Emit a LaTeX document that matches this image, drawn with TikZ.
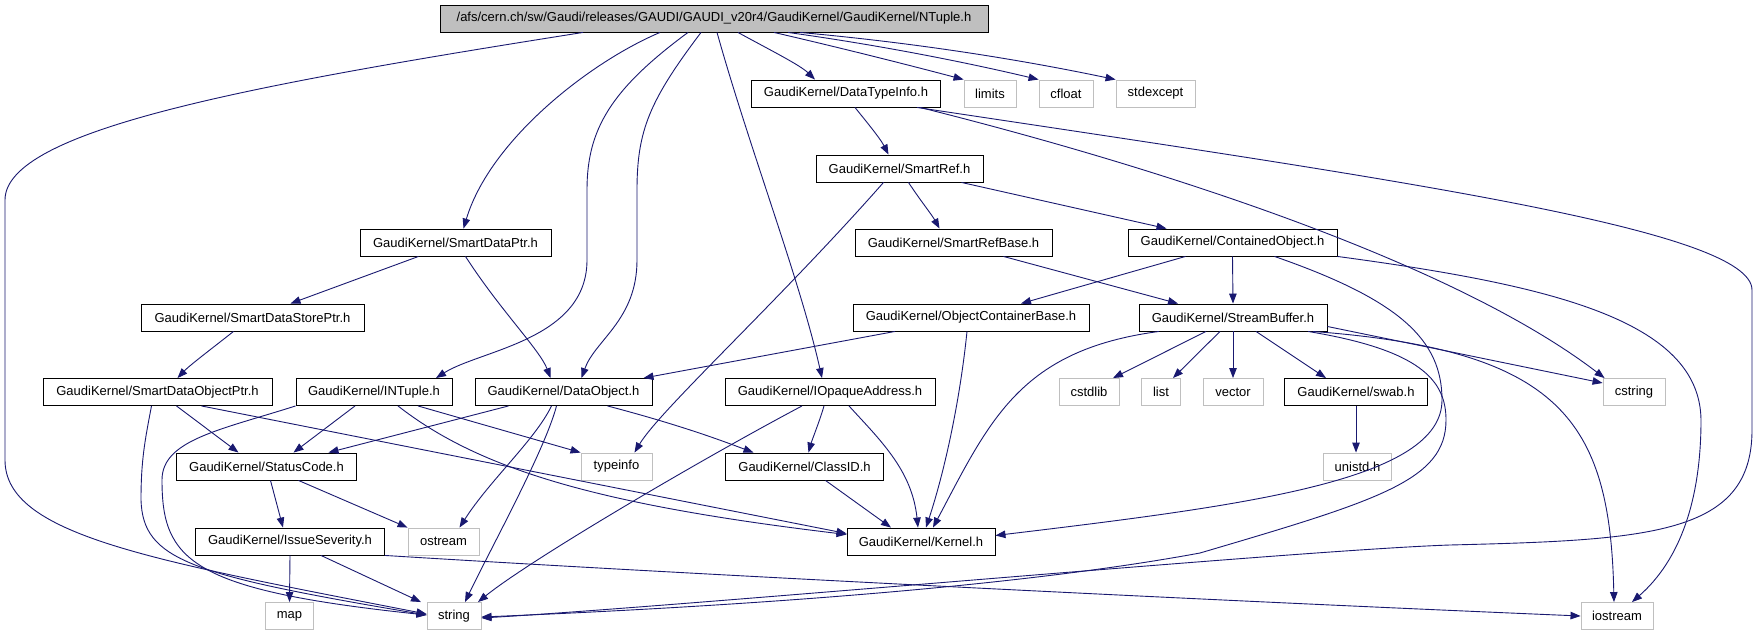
\documentclass[tikz,border=0pt]{standalone}
\usepackage{fontspec}
\setmainfont{Liberation Sans}
\usetikzlibrary{arrows.meta}
\definecolor{navy}{HTML}{191970}
\definecolor{lgray}{HTML}{BFBFBF}
\tikzset{
  box/.style={draw=black, fill=white, line width=0.9pt, minimum height=27pt, inner sep=0pt, font=\fontsize{13}{15}\selectfont},
  gbox/.style={box, draw=lgray},
  rootbox/.style={box, fill=lgray},
  edge/.style={draw=navy, line width=0.9pt, -{Triangle[length=10pt,width=7.5pt]}},
}
\begin{document}
\begin{tikzpicture}[x=1pt,y=-1pt]
\useasboundingbox[fill=white] (0,0) rectangle (1757,634);
% nodes
\node[rootbox, minimum width=548] (root) at (714,18.5) {/afs/cern.ch/sw/Gaudi/releases/GAUDI/GAUDI\_v20r4/GaudiKernel/GaudiKernel/NTuple.h};
\node[box, minimum width=189] (dti) at (846,93.5) {GaudiKernel/DataTypeInfo.h};
\node[gbox, minimum width=52] (limits) at (990,93.5) {limits};
\node[gbox, minimum width=54] (cfloat) at (1066,93.5) {cfloat};
\node[gbox, minimum width=79] (stdexcept) at (1155.5,93.5) {stdexcept};
\node[box, minimum width=167] (sref) at (899.5,168.5) {GaudiKernel/SmartRef.h};
\node[box, minimum width=191] (sdp) at (455.5,242.5) {GaudiKernel/SmartDataPtr.h};
\node[box, minimum width=197] (srb) at (953.5,242.5) {GaudiKernel/SmartRefBase.h};
\node[box, minimum width=209] (cobj) at (1232.5,242.5) {GaudiKernel/ContainedObject.h};
\node[box, minimum width=223] (sdsp) at (252.5,317.5) {GaudiKernel/SmartDataStorePtr.h};
\node[box, minimum width=236] (ocb) at (971,317.5) {GaudiKernel/ObjectContainerBase.h};
\node[box, minimum width=188] (sbuf) at (1233,317.5) {GaudiKernel/StreamBuffer.h};
\node[box, minimum width=229] (sdop) at (157.5,392) {GaudiKernel/SmartDataObjectPtr.h};
\node[box, minimum width=156] (intuple) at (374,392) {GaudiKernel/INTuple.h};
\node[box, minimum width=177] (dobj) at (563.5,392) {GaudiKernel/DataObject.h};
\node[box, minimum width=210] (iop) at (830,392) {GaudiKernel/IOpaqueAddress.h};
\node[gbox, minimum width=60] (cstdlib) at (1089,392) {cstdlib};
\node[gbox, minimum width=39] (list) at (1161,392) {list};
\node[gbox, minimum width=60] (vector) at (1233,392) {vector};
\node[box, minimum width=143] (swab) at (1356,392) {GaudiKernel/swab.h};
\node[gbox, minimum width=62] (cstring) at (1634,392) {cstring};
\node[box, minimum width=180] (statuscode) at (266.5,466.5) {GaudiKernel/StatusCode.h};
\node[gbox, minimum width=71] (typeinfo) at (616.5,466.5) {typeinfo};
\node[box, minimum width=158] (classid) at (804.5,466.5) {GaudiKernel/ClassID.h};
\node[gbox, minimum width=68] (unistd) at (1357.5,466.5) {unistd.h};
\node[box, minimum width=189] (issue) at (290,541.5) {GaudiKernel/IssueSeverity.h};
\node[gbox, minimum width=71] (ostream) at (443.5,541.5) {ostream};
\node[box, minimum width=148] (kernel) at (921,541.5) {GaudiKernel/Kernel.h};
\node[gbox, minimum width=48] (map) at (289.5,616) {map};
\node[gbox, minimum width=54] (string) at (454,616) {string};
\node[gbox, minimum width=72] (iostream) at (1617,616) {iostream};
% root edges
\draw[edge] ([xshift=-131]root.south) .. controls (250,85) and (5,130) .. (5,200) -- (5,460) .. controls (5,535) and (150,560) .. ([yshift=2]string.west);
\draw[edge] ([xshift=-54]root.south) .. controls (590,62) and (490,140) .. ([xshift=8]sdp.north);
\draw[edge] ([xshift=-26]root.south) .. controls (610,90) and (587,130) .. (587,190) -- (587,260) .. controls (587,340) and (480,350) .. ([xshift=62]intuple.north);
\draw[edge] ([xshift=-13]root.south) .. controls (650,100) and (637,130) .. (637,190) -- (637,260) .. controls (637,320) and (595,340) .. ([xshift=18]dobj.north);
\draw[edge] ([xshift=3]root.south) .. controls (750,150) and (800,280) .. ([xshift=-8]iop.north);
\draw[edge] ([xshift=24]root.south) .. controls (770,50) and (800,65) .. ([xshift=-31]dti.north);
\draw[edge] ([xshift=60]root.south) .. controls (850,50) and (920,68) .. (limits.north west);
\draw[edge] ([xshift=74]root.south) .. controls (900,48) and (990,68) .. (cfloat.north west);
\draw[edge] ([xshift=86]root.south) .. controls (950,46) and (1060,68) .. (stdexcept.north west);
% DataTypeInfo edges
\draw[edge] ([xshift=9]dti.south) .. controls (865,120) and (880,138) .. ([xshift=-11]sref.north);
\draw[edge] ([xshift=74]dti.south) .. controls (1150,165) and (1450,260) .. ([xshift=2]cstring.north west);
\draw[edge] ([xshift=71]dti.south) .. controls (1400,180) and (1752,230) .. (1752,290) -- (1752,430) .. controls (1752,535) and (1650,540) .. (1450,545) .. controls (1300,550) and (700,605) .. ([yshift=-2]string.east);
% SmartRef edges
\draw[edge] ([xshift=-16]sref.south) .. controls (780,300) and (660,410) .. ([xshift=18]typeinfo.north);
\draw[edge] ([xshift=9]sref.south) .. controls (920,200) and (932,215) .. ([xshift=-14]srb.north);
\draw[edge] ([xshift=62]sref.south) -- ([xshift=-66]cobj.north);
% SmartDataPtr edges
\draw[edge] ([xshift=-37]sdp.south) -- ([xshift=38]sdsp.north);
\draw[edge] ([xshift=10]sdp.south) .. controls (500,310) and (540,350) .. ([xshift=-13]dobj.north);
\draw[edge] ([xshift=-19]sdsp.south) .. controls (210,350) and (190,365) .. ([xshift=20]sdop.north);
\draw[edge] ([xshift=50]srb.south) -- ([xshift=-55]sbuf.north);
% ContainedObject edges
\draw[edge] ([xshift=-47]cobj.south) -- ([xshift=50]ocb.north);
\draw[edge] (cobj.south) -- (sbuf.north);
\draw[edge] ([xshift=42]cobj.south) .. controls (1400,300) and (1442,340) .. (1442,400) .. controls (1442,480) and (1250,505) .. ([yshift=6]kernel.east);
\draw[edge] (cobj.south east) .. controls (1550,285) and (1700,320) .. (1701,420) .. controls (1701,500) and (1680,560) .. ([xshift=15]iostream.north);
% StreamBuffer edges
\draw[edge] ([xshift=-27]sbuf.south) -- ([xshift=24]cstdlib.north);
\draw[edge] ([xshift=-13]sbuf.south) -- ([xshift=12]list.north);
\draw[edge] (sbuf.south) -- (vector.north);
\draw[edge] ([xshift=23]sbuf.south) -- ([xshift=-30]swab.north);
\draw[edge] ([yshift=-9]sbuf.east) -- ([yshift=9]cstring.west);
\draw[edge] ([xshift=80]sbuf.south) .. controls (1560,350) and (1610,420) .. ([xshift=-3]iostream.north);
\draw[edge] ([xshift=75]sbuf.south) .. controls (1420,350) and (1446,380) .. (1446,420) .. controls (1446,480) and (1380,500) .. (1200,553) .. controls (1000,590) and (700,608) .. ([yshift=-1]string.east);
\draw[edge] ([xshift=-74]sbuf.south) .. controls (1020,350) and (990,420) .. ([xshift=12]kernel.north);
% ObjectContainerBase edges
\draw[edge] ([xshift=-76]ocb.south) -- ([xshift=80]dobj.north);
\draw[edge] ([xshift=-4]ocb.south) .. controls (960,400) and (945,470) .. ([xshift=5]kernel.north);
% IOpaqueAddress edges
\draw[edge] ([xshift=-6]iop.south) .. controls (820,420) and (812,440) .. ([xshift=4]classid.north);
\draw[edge] ([xshift=19]iop.south) .. controls (880,440) and (912,470) .. ([xshift=-3]kernel.north);
\draw[edge] ([xshift=-28]iop.south) .. controls (700,460) and (530,560) .. ([xshift=24]string.north);
\draw[edge] ([xshift=21]classid.south) -- ([xshift=-30]kernel.north);
% DataObject edges
\draw[edge] ([xshift=-55]dobj.south) -- ([xshift=62]statuscode.north);
\draw[edge] ([xshift=44]dobj.south) .. controls (680,425) and (720,440) .. ([xshift=-51]classid.north);
\draw[edge] ([xshift=-12]dobj.south) .. controls (535,440) and (490,480) .. ([xshift=16]ostream.north);
\draw[edge] ([xshift=-7]dobj.south) .. controls (545,450) and (490,550) .. ([xshift=11]string.north);
% INTuple edges
\draw[edge] (intuple.south west) .. controls (220,430) and (162,440) .. (162,480) .. controls (162,560) and (190,590) .. ([yshift=1]string.west);
\draw[edge] ([xshift=-19]intuple.south) -- ([xshift=27]statuscode.north);
\draw[edge] ([xshift=24]intuple.south) .. controls (480,470) and (600,505) .. ([yshift=7]kernel.west);
\draw[edge] ([xshift=44]intuple.south) -- (typeinfo.north west);
% SmartDataObjectPtr edges
\draw[edge] ([xshift=19]sdop.south) -- ([xshift=-28]statuscode.north);
\draw[edge] ([xshift=44]sdop.south) -- ([yshift=8]kernel.west);
\draw[edge] ([xshift=-6]sdop.south) .. controls (145,440) and (141,460) .. (141,500) .. controls (143,560) and (190,575) .. ([yshift=1]string.west);
% StatusCode / IssueSeverity
\draw[edge] ([xshift=4]statuscode.south) -- ([xshift=-7]issue.north);
\draw[edge] ([xshift=32]statuscode.south) -- (ostream.north west);
\draw[edge] (issue.south) -- (map.north);
\draw[edge] ([xshift=31]issue.south) -- ([xshift=-33]string.north);
\draw[edge] (issue.south east) .. controls (700,575) and (1200,600) .. (iostream.west);
% swab
\draw[edge] (swab.south) -- (swab.south |- unistd.north);
\end{tikzpicture}
\end{document}
